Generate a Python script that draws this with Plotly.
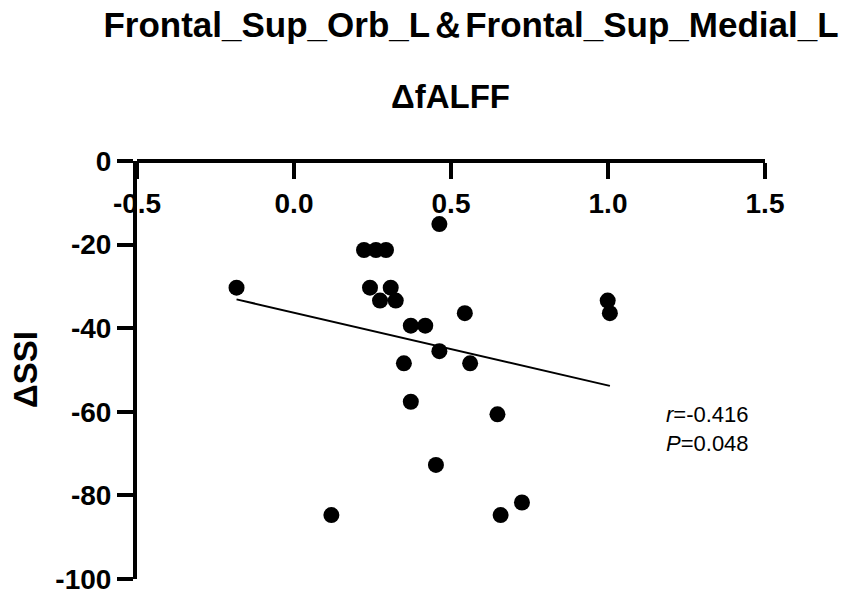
import plotly.graph_objects as go

# values
dfalff = [-0.183, 0.463, 0.223, 0.261, 0.293, 0.242, 0.308, 0.274, 0.324, 0.544, 0.372, 0.418,
          0.463, 0.350, 0.561, 0.372, 0.648, 0.452, 0.726, 0.119, 0.658, 0.999, 1.006]
dssi = [-30.3, -15.1, -21.3, -21.3, -21.3, -30.3, -30.3, -33.4, -33.4, -36.4, -39.4, -39.4,
        -45.5, -48.4, -48.4, -57.6, -60.6, -72.7, -81.7, -84.7, -84.7, -33.4, -36.4]

# regression line ends
fit_x = [-0.183, 1.006]
fit_y = [-33.1, -53.8]

x_ticks = [-0.5, 0.0, 0.5, 1.0, 1.5]
x_ticktext = ['-0.5', '0.0', '0.5', '1.0', '1.5']
y_ticks = [0, -20, -40, -60, -80, -100]
y_ticktext = ['0', '-20', '-40', '-60', '-80', '-100']

stats_text = '<i>r</i>=-0.416<br><i>P</i>=0.048'

fig = go.Figure()
fig.add_trace(go.Scatter(x=dfalff, y=dssi, mode='markers',
                         marker=dict(color='black', size=16), showlegend=False))
fig.add_trace(go.Scatter(x=fit_x, y=fit_y, mode='lines',
                         line=dict(color='black', width=2), showlegend=False))

font_name = 'Liberation Sans, Arial, sans-serif'

fig.update_layout(
    width=851, height=601,
    margin=dict(l=137, r=86, t=161, b=22),
    plot_bgcolor='white', paper_bgcolor='white',
    font=dict(family=font_name, color='black'),
    title=dict(text='<b>Frontal_Sup_Orb_L＆Frontal_Sup_Medial_L</b>',
               x=471 / 851, xanchor='center', y=1 - 25 / 601, yanchor='middle',
               font=dict(size=35, family=font_name, color='black')),
    xaxis=dict(range=[-0.5, 1.5], tickvals=x_ticks, ticktext=x_ticktext,
               side='bottom', anchor='free', position=1, automargin=False,
               showline=True, linecolor='black', linewidth=4,
               ticks='outside', ticklen=16, tickwidth=4, tickcolor='black',
               tickfont=dict(size=28, family=font_name, color='black', weight='bold'),
               showgrid=False, zeroline=False),
    yaxis=dict(range=[-100, 0], tickvals=y_ticks, ticktext=y_ticktext, domain=[0, 1],
               automargin=False,
               showline=True, linecolor='black', linewidth=4,
               ticks='outside', ticklen=16, tickwidth=4, tickcolor='black',
               tickfont=dict(size=28, family=font_name, color='black', weight='bold'),
               showgrid=False, zeroline=False),
)

fig.add_annotation(text='<b>ΔfALFF</b>', xref='paper', yref='paper',
                   x=(450 - 137) / 628, y=(579 - 96) / 418,
                   xanchor='center', yanchor='middle', showarrow=False,
                   font=dict(size=33, family=font_name, color='black'))
fig.add_annotation(text='<b>ΔSSI</b>', xref='paper', yref='paper',
                   x=(25 - 137) / 628, y=0.5, textangle=-90,
                   xanchor='center', yanchor='middle', showarrow=False,
                   font=dict(size=33, family=font_name, color='black'))
fig.add_annotation(text=stats_text, x=1.178, y=-64.0, xref='x', yref='y',
                   xanchor='left', yanchor='middle', align='left', showarrow=False,
                   font=dict(size=22, family=font_name, color='black'))

# drop the default body margin so the figure fills the window exactly
fig.write_html("out.html", config={'displayModeBar': False},
               post_script="document.body.style.margin='0';")
